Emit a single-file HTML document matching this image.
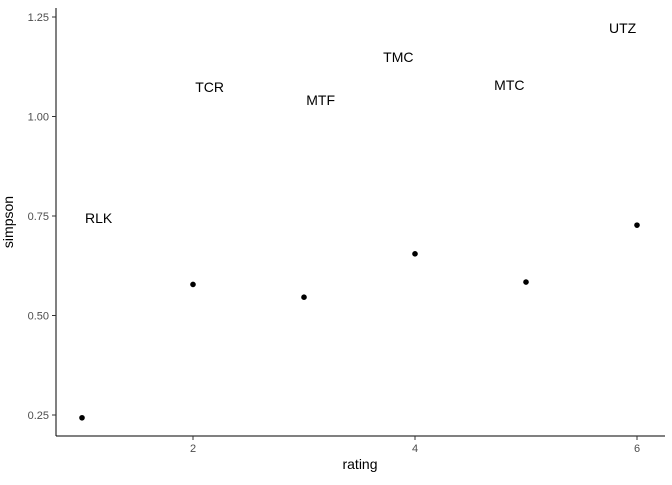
<!DOCTYPE html>
<html><head><meta charset="utf-8"><style>
body{margin:0;background:#fff;}
svg{font-family:"Liberation Sans",sans-serif;}
</style></head><body>
<svg id="chart" width="672" height="480"></svg>
<script>
const ratings=[1,2,3,4,5,6];
const simpson=[0.243,0.578,0.546,0.655,0.584,0.727];
const labels=["RLK","TCR","MTF","TMC","MTC","UTZ"];
const labelX=[1.15,2.15,3.15,3.85,4.85,5.87];
const labelY=[0.745,1.074,1.041,1.15,1.079,1.222];
const xTicks=[2,4,6];
const yTicks=[0.25,0.50,0.75,1.00,1.25];
const yTickLabels=["0.25","0.50","0.75","1.00","1.25"];

const NS="http://www.w3.org/2000/svg";
const svg=document.getElementById('chart');
const X=v=>82+(v-1)*111;
const Y=v=>17+(1.25-v)*398;
function el(t,a,p){const e=document.createElementNS(NS,t);for(const k in a)e.setAttribute(k,a[k]);(p||svg).appendChild(e);return e;}

const xa=el('line',{x1:56,y1:436,x2:665,y2:436,stroke:'#000','stroke-width':1});


const ya=el('line',{x1:56,y1:8,x2:56,y2:436,stroke:'#000','stroke-width':1});



xTicks.forEach(v=>{
  const t=el('line',{x1:X(v),y1:436,x2:X(v),y2:440,stroke:'#333'});
  
  
  const l=el('text',{x:X(v),y:452,'text-anchor':'middle','font-size':11,fill:'#4d4d4d'});
  l.textContent=v;
  
  
});
yTicks.forEach((v,i)=>{
  const t=el('line',{x1:52,y1:Y(v),x2:56,y2:Y(v),stroke:'#333'});
  
  
  const l=el('text',{x:49,y:Y(v)+4,'text-anchor':'end','font-size':11,fill:'#4d4d4d'});
  l.textContent=yTickLabels[i];
  
  
});
ratings.forEach((r,i)=>{
  const c=el('circle',{cx:X(r),cy:Y(simpson[i]),r:2.8,fill:'#000'});
  
  
  const t=el('text',{x:X(labelX[i]),y:Y(labelY[i])+5,'text-anchor':'middle','font-size':14,fill:'#000'});
  t.textContent=labels[i];
  
  
});
const xt=el('text',{x:360,y:469,'text-anchor':'middle','font-size':14,fill:'#000'});
xt.textContent='rating';


const yt=el('text',{x:0,y:0,'text-anchor':'middle','font-size':14,fill:'#000',transform:'translate(13,222) rotate(-90)'});
yt.textContent='simpson';


</script>
</body></html>
